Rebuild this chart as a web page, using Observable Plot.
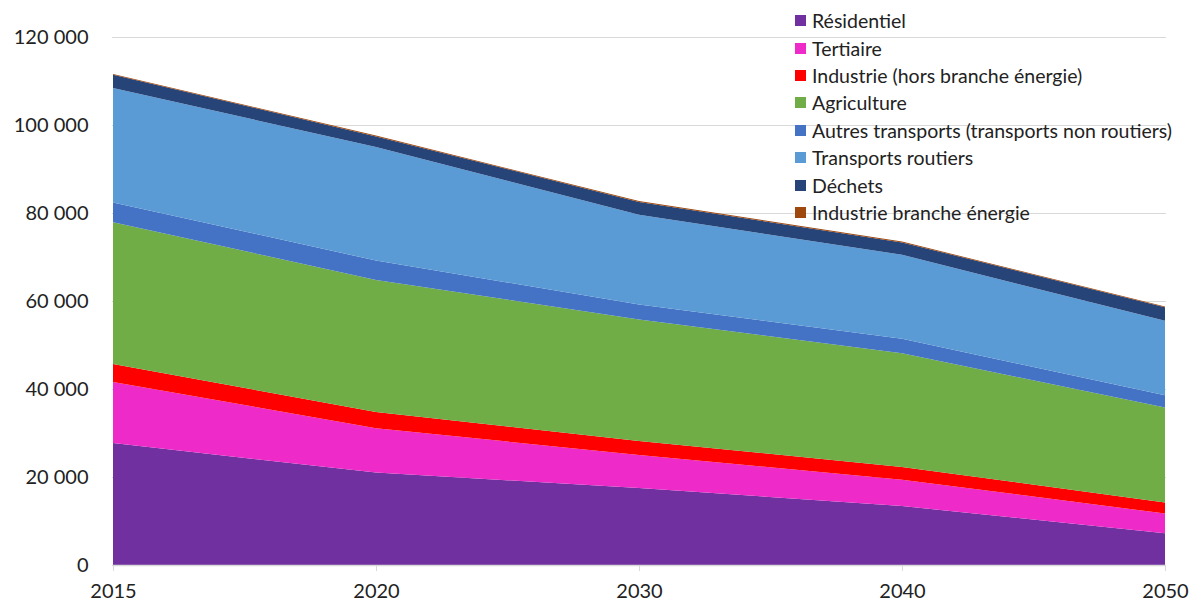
<!DOCTYPE html>
<html>
<head>
<meta charset="utf-8">
<script src="https://cdn.jsdelivr.net/npm/d3@7"></script>
<script src="https://cdn.jsdelivr.net/npm/@observablehq/plot@0.6"></script>
<style>
  html, body { margin: 0; padding: 0; background: #fff; }
  #wrap { position: relative; width: 1193px; height: 606px; font-family: Lato, "Open Sans", sans-serif; }
  #legend { position: absolute; left: 795px; top: 7px; font-size: 19.5px; color: #222; }
  .row { height: 27.4px; display: flex; align-items: center; white-space: nowrap; }
  .sw { width: 11px; height: 11px; margin-right: 6px; flex: none; }
</style>
</head>
<body>
<div id="wrap"><div id="legend"></div></div>
<script>
const years = ["2015", "2020", "2030", "2040", "2050"];
const sectors = [
  "Résidentiel",
  "Tertiaire",
  "Industrie (hors branche énergie)",
  "Agriculture",
  "Autres transports (transports non routiers)",
  "Transports routiers",
  "Déchets",
  "Industrie branche énergie"
];
const colors = ["#7030A0", "#EE2BC8", "#FF0000", "#70AD47", "#4472C4", "#5B9BD5", "#264478", "#9E480E"];

const residentiel = [27700, 21000, 17500, 13400, 7200];
const tertiaire   = [13900, 10100, 7500, 6000, 4500];
const industrie   = [4100, 3700, 3200, 2900, 2500];
const agriculture = [32200, 30000, 27600, 25800, 21600];
const autresTransports = [4500, 4400, 3400, 3300, 2800];
const transportsRoutiers = [26000, 25800, 20400, 19100, 16900];
const dechets     = [3000, 2400, 2900, 2800, 3100];
const brancheEnergie = [200, 200, 200, 200, 150];

const yTicks = [0, 20000, 40000, 60000, 80000, 100000, 120000];

const series = [residentiel, tertiaire, industrie, agriculture, autresTransports, transportsRoutiers, dechets, brancheEnergie];
const data = [];
sectors.forEach((s, i) => years.forEach((y, j) => data.push({year: y, sector: s, value: series[i][j]})));

const fmt = d => d3.format(",")(d).replace(/,/g, " ");

const chart = Plot.plot({
  width: 1193,
  height: 606,
  marginLeft: 112,
  marginRight: 27,
  marginTop: 37,
  marginBottom: 41,
  style: {fontFamily: "Lato, 'Open Sans', sans-serif", fontSize: "20px", color: "#222", background: "white"},
  x: {type: "point", domain: years, padding: 0, label: null},
  y: {domain: [0, 120000], label: null},
  color: {domain: sectors, range: colors},
  marks: [
    Plot.gridY(yTicks.filter(d => d > 0), {stroke: "#d9d9d9", strokeOpacity: 1, strokeWidth: 1}),
    Plot.areaY(data, {x: "year", y: "value", z: "sector", fill: "sector", order: sectors}),
    Plot.ruleY([0], {stroke: "#d9d9d9", strokeWidth: 1.5}),
    Plot.axisY(yTicks, {tickSize: 0, tickPadding: 24, tickFormat: fmt, fontSize: 20, label: null}),
    Plot.axisX({tickSize: 6, tickPadding: 12, stroke: "#d9d9d9", fontSize: 20, label: null})
  ]
});
document.getElementById("wrap").prepend(chart);

const legend = document.getElementById("legend");
sectors.forEach((s, i) => {
  const row = document.createElement("div");
  row.className = "row";
  const sw = document.createElement("span");
  sw.className = "sw";
  sw.style.background = colors[i];
  const t = document.createElement("span");
  t.textContent = s;
  row.append(sw, t);
  legend.append(row);
});
</script>
</body>
</html>
